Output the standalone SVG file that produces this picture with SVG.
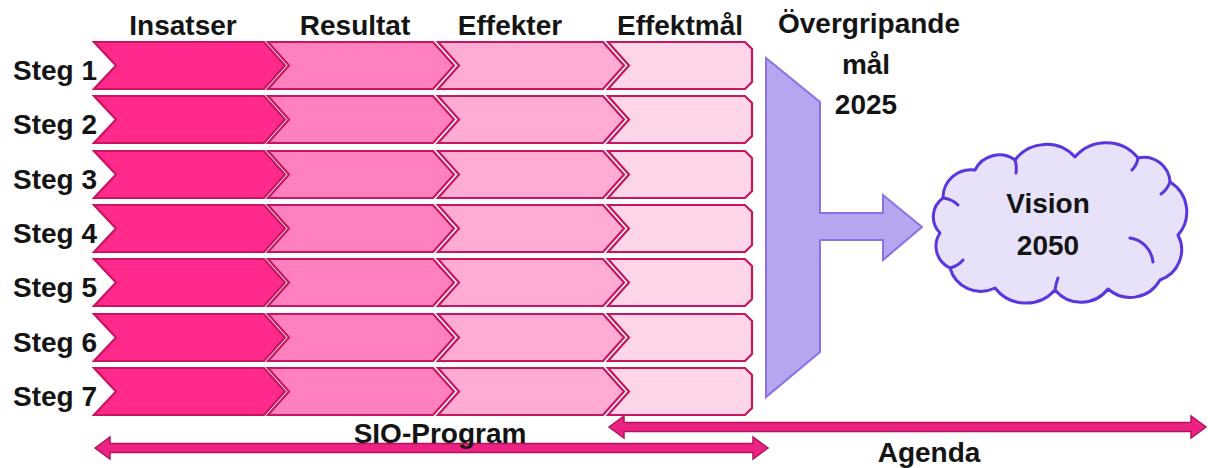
<svg xmlns="http://www.w3.org/2000/svg" xmlns:xlink="http://www.w3.org/1999/xlink" width="1208" height="468" viewBox="0 0 1208 468">
<style>
  .t { font-family: "Liberation Sans", Arial, sans-serif; font-weight: bold; font-size: 28px; fill: #141414; text-anchor: middle; }
  .c1 { fill: #FF2A8C; }
  .c2 { fill: #FF80BF; }
  .c3 { fill: #FFABD3; }
  .c4 { fill: #FFD6E9; }
  .ch { stroke: #C8155F; stroke-width: 2.2; stroke-linejoin: miter; }
  .dbl { fill: #EC2383; stroke: #B3125C; stroke-width: 1.5; stroke-linejoin: miter; }
</style>
<defs>
  <path id="ch1" d="M94,0 L264,0 L285,23.5 L264,47 L94,47 L116,23.5 Z"/>
  <path id="ch2" d="M268,0 L433,0 L454,23.5 L433,47 L268,47 L289,23.5 Z"/>
  <path id="ch3" d="M438,0 L603,0 L624,23.5 L603,47 L438,47 L459,23.5 Z"/>
  <path id="ch4" d="M608,0 L745,0 L752,7 L752,40 L745,47 L608,47 L629,23.5 Z"/>
</defs>
<rect width="1208" height="468" fill="#FFFFFF"/>

<g id="headers">
  <text class="t" x="183" y="35">Insatser</text>
  <text class="t" x="355" y="35">Resultat</text>
  <text class="t" x="510" y="35">Effekter</text>
  <text class="t" x="680" y="35">Effektmål</text>
  <text class="t" x="869" y="33">Övergripande</text>
  <text class="t" x="866" y="74">mål</text>
  <text class="t" x="866" y="114">2025</text>
</g>

<g id="steg1" transform="translate(0,42)">
  <use href="#ch1" class="c1 ch"/><use href="#ch2" class="c2 ch"/><use href="#ch3" class="c3 ch"/><use href="#ch4" class="c4 ch"/>
  <text class="t" x="55" y="37.5">Steg 1</text>
</g>
<g id="steg2" transform="translate(0,96)">
  <use href="#ch1" class="c1 ch"/><use href="#ch2" class="c2 ch"/><use href="#ch3" class="c3 ch"/><use href="#ch4" class="c4 ch"/>
  <text class="t" x="55" y="37.5">Steg 2</text>
</g>
<g id="steg3" transform="translate(0,151)">
  <use href="#ch1" class="c1 ch"/><use href="#ch2" class="c2 ch"/><use href="#ch3" class="c3 ch"/><use href="#ch4" class="c4 ch"/>
  <text class="t" x="55" y="37.5">Steg 3</text>
</g>
<g id="steg4" transform="translate(0,205)">
  <use href="#ch1" class="c1 ch"/><use href="#ch2" class="c2 ch"/><use href="#ch3" class="c3 ch"/><use href="#ch4" class="c4 ch"/>
  <text class="t" x="55" y="37.5">Steg 4</text>
</g>
<g id="steg5" transform="translate(0,259)">
  <use href="#ch1" class="c1 ch"/><use href="#ch2" class="c2 ch"/><use href="#ch3" class="c3 ch"/><use href="#ch4" class="c4 ch"/>
  <text class="t" x="55" y="37.5">Steg 5</text>
</g>
<g id="steg6" transform="translate(0,314)">
  <use href="#ch1" class="c1 ch"/><use href="#ch2" class="c2 ch"/><use href="#ch3" class="c3 ch"/><use href="#ch4" class="c4 ch"/>
  <text class="t" x="55" y="37.5">Steg 6</text>
</g>
<g id="steg7" transform="translate(0,368)">
  <use href="#ch1" class="c1 ch"/><use href="#ch2" class="c2 ch"/><use href="#ch3" class="c3 ch"/><use href="#ch4" class="c4 ch"/>
  <text class="t" x="55" y="37.5">Steg 7</text>
</g>

<g id="funnel">
  <polygon points="766,58 820,102 820,213 883,213 883,195 922,227 883,260 883,240 820,240 820,352 766,397" fill="#B6A6F0" stroke="#8B70E6" stroke-width="2" stroke-linejoin="miter"/>
</g>

<g id="vision">
  <path d="M943,198 A28,28 0 0 1 975,170 A27,27 0 0 1 1015,160 A39,39 0 0 1 1075,157 A41,41 0 0 1 1138,158 A26,26 0 0 1 1170,182 A35,35 0 0 1 1178,235 A32,32 0 0 1 1160,280 A34,34 0 0 1 1108,289 A34,34 0 0 1 1055,290 A39,39 0 0 1 995,288 A32,32 0 0 1 950,268 A24,24 0 0 1 940,233 A23,23 0 0 1 943,198 Z" fill="#E7E2FA" stroke="#5A35E0" stroke-width="3" stroke-linejoin="round"/>
  <g fill="none" stroke="#5A35E0" stroke-width="3" stroke-linecap="round">
    <path d="M943,198 Q952,199 958,205"/>
    <path d="M1015,160 Q1017,166 1016,173"/>
    <path d="M1138,158 Q1137,165 1132,170"/>
    <path d="M1170,182 Q1167,190 1161,194"/>
    <path d="M1130,238 A27,27 0 0 1 1153,262"/>
    <path d="M1055,290 Q1056,283 1058,278"/>
    <path d="M950,268 Q958,266 963,260"/>
  </g>
  <text class="t" x="1048" y="213">Vision</text>
  <text class="t" x="1048" y="255">2050</text>
</g>

<g id="connectors">
  <polygon class="dbl" points="609,427 624,416 624,422.5 1191,422.5 1191,416 1206,427 1191,438 1191,431.5 624,431.5 624,438"/>
  <polygon class="dbl" points="95,448 110,437 110,443.5 753,443.5 753,437 768,448 753,459 753,452.5 110,452.5 110,459"/>
</g>

<g id="labels">
  <text class="t" x="440" y="443">SIO-Program</text>
  <text class="t" x="929" y="462">Agenda</text>
</g>
</svg>
